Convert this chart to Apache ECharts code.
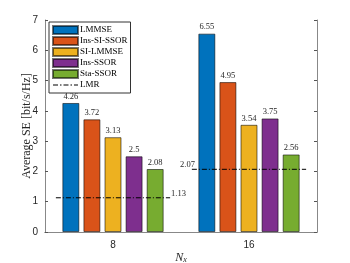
<!DOCTYPE html>
<html><head><meta charset="utf-8">
<script src="https://cdn.jsdelivr.net/npm/echarts@6/dist/echarts.min.js"></script>
<style>html,body{margin:0;padding:0;background:#fff}#c{width:350px;height:263px}</style>
</head><body><div id="c"></div>
<script>
const categories = ['8', '16'];
const seriesNames = ['LMMSE', 'Ins-SI-SSOR', 'SI-LMMSE', 'Ins-SSOR', 'Sta-SSOR'];
const LMMSE = [4.26, 6.55];
const InsSISSOR = [3.72, 4.95];
const SILMMSE = [3.13, 3.54];
const InsSSOR = [2.5, 3.75];
const StaSSOR = [2.08, 2.56];
const LMR = [1.13, 2.07];
const yTicks = [0, 1, 2, 3, 4, 5, 6, 7];

const barValues = [LMMSE, InsSISSOR, SILMMSE, InsSSOR, StaSSOR];
const colors = ['#0072BD', '#D95319', '#EDB120', '#7E2F8E', '#77AC30'];
const serif = 'Liberation Serif';
const sans = 'Liberation Sans';
const lmrHalf = 0.42;
const dashDotIcon = 'path://M0,0h0.01v0.01h-0.01z M25,8h0.01v0.01h-0.01z ' +
  'M0,3.5h5v1h-5z M7,3.5h1.5v1h-1.5z M10.5,3.5h5v1h-5z M17.5,3.5h1.5v1h-1.5z M21,3.5h4v1h-4z';

const chart = echarts.init(document.getElementById('c'), null, {renderer: 'canvas'});

const series = barValues.map((vals, k) => ({
  name: seriesNames[k],
  type: 'bar',
  xAxisIndex: 0,
  yAxisIndex: 0,
  data: vals,
  barWidth: 17,
  barGap: '24%',
  itemStyle: {color: colors[k], borderColor: 'rgba(0,0,0,0.55)', borderWidth: 1},
  label: {show: true, position: 'top', distance: 2, fontFamily: serif, fontSize: 8.5, color: '#262626'}
}));

LMR.forEach((v, i) => {
  series.push({
    name: 'LMR',
    type: 'line',
    xAxisIndex: 2,
    yAxisIndex: 0,
    symbol: 'none',
    lineStyle: {color: '#000', width: 1, type: [5, 2, 1, 2]},
    itemStyle: {color: '#000'},
    silent: true,
    z: 5,
    data: [[i + 0.5 - lmrHalf, v], [i + 0.5 + lmrHalf, v]]
  });
});

series.push({
  name: 'LMR values',
  type: 'scatter',
  xAxisIndex: 2,
  yAxisIndex: 0,
  symbolSize: 0,
  silent: true,
  z: 6,
  itemStyle: {opacity: 1, color: '#000'},
  data: LMR.map((v, i) => {
    const isLast = i === LMR.length - 1;
    return {
      value: [i + 0.5 + (isLast ? -lmrHalf : lmrHalf), v],
      label: isLast ? {position: 'left', offset: [5, -5]} : {position: 'right', offset: [-1, -4]}
    };
  }),
  label: {show: true, fontFamily: serif, fontSize: 8.5, color: '#262626', distance: 2,
          formatter: p => String(p.value[1])}
});

chart.setOption({
  animation: false,
  grid: {left: 45, right: 33, top: 20, bottom: 31, outerBoundsMode: 'none', containLabel: false},
  legend: {
    orient: 'vertical',
    left: 49, top: 22,
    itemWidth: 25, itemHeight: 8, itemGap: 1,
    padding: [3, 3, 3, 3],
    borderColor: '#333', borderWidth: 1, backgroundColor: '#fff',
    textStyle: {fontFamily: serif, fontSize: 9, lineHeight: 10, color: '#000', padding: [0, 0, 0, -3]},
    data: seriesNames.map(n => ({name: n, icon: 'rect'})).concat([{name: 'LMR', icon: dashDotIcon}])
  },
  xAxis: [
    {type: 'category', data: categories, position: 'bottom',
     axisLine: {lineStyle: {color: '#888'}},
     axisTick: {inside: true, alignWithLabel: true, length: 3, lineStyle: {color: '#555'}},
     axisLabel: {fontFamily: sans, fontSize: 10, color: '#262626', margin: 8},
     name: '{i|N}{s|x}', nameLocation: 'middle', nameGap: 19, nameMoveOverlap: false,
     nameTextStyle: {rich: {i: {fontFamily: serif, fontStyle: 'italic', fontSize: 12, color: '#262626'},
                            s: {fontFamily: serif, fontStyle: 'italic', fontSize: 8, color: '#262626', verticalAlign: 'bottom', padding: [5, 0, 0, 0]}}}},
    {type: 'category', data: categories, position: 'top',
     axisLine: {lineStyle: {color: '#888'}},
     axisTick: {inside: true, alignWithLabel: true, length: 3, lineStyle: {color: '#555'}},
     axisLabel: {show: false}},
    {type: 'value', min: 0, max: categories.length, show: false}
  ],
  yAxis: [
    {type: 'value', min: yTicks[0], max: yTicks[yTicks.length - 1], interval: 1, position: 'left',
     splitLine: {show: false},
     axisLine: {show: true, lineStyle: {color: '#888'}},
     axisTick: {show: true, inside: true, length: 3, lineStyle: {color: '#555'}},
     axisLabel: {fontFamily: sans, fontSize: 10, color: '#262626', margin: 7},
     name: 'Average SE [bit/s/Hz]', nameLocation: 'middle', nameGap: 12, nameMoveOverlap: false,
     nameTextStyle: {fontFamily: serif, fontSize: 12, color: '#262626'}},
    {type: 'value', min: yTicks[0], max: yTicks[yTicks.length - 1], interval: 1, position: 'right',
     splitLine: {show: false},
     axisLine: {show: true, lineStyle: {color: '#888'}},
     axisTick: {show: true, inside: true, length: 3, lineStyle: {color: '#555'}},
     axisLabel: {show: false}}
  ],
  series: series
});
</script></body></html>
